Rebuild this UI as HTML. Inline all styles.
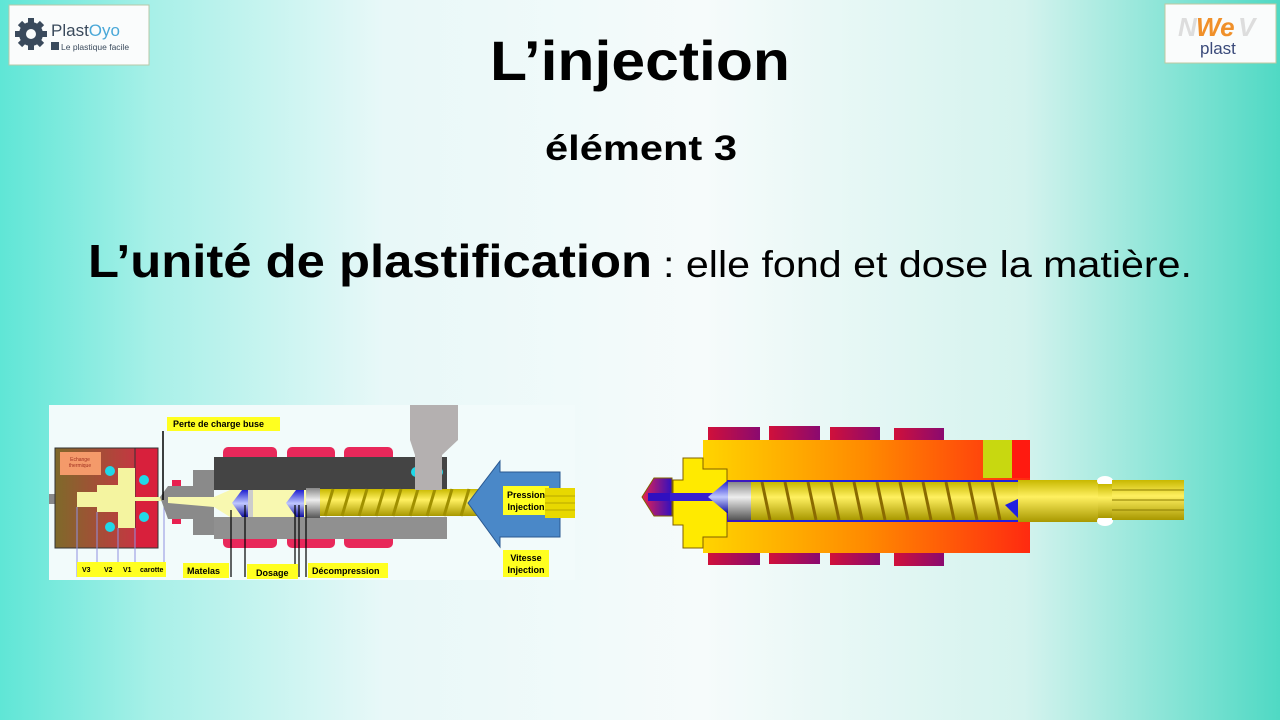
<!DOCTYPE html>
<html><head><meta charset="utf-8"><style>
html,body{margin:0;padding:0;width:1280px;height:720px;overflow:hidden}
svg{display:block}
text{font-family:"Liberation Sans",Arial,sans-serif}
</style></head><body>
<svg width="1280" height="720" viewBox="0 0 1280 720" xmlns="http://www.w3.org/2000/svg">
<defs>
<linearGradient id="bg" x1="0" y1="0" x2="1" y2="0">
<stop offset="0" stop-color="#5fe6d6"/><stop offset="0.12" stop-color="#a8f0e8"/>
<stop offset="0.3" stop-color="#e8f8f8"/><stop offset="0.55" stop-color="#f6fbfb"/>
<stop offset="0.8" stop-color="#d4f3ee"/><stop offset="1" stop-color="#4fd9c4"/></linearGradient>
<linearGradient id="mold" x1="0" y1="0" x2="1" y2="0"><stop offset="0" stop-color="#7e6a2a"/><stop offset="1" stop-color="#d82848"/></linearGradient>
<linearGradient id="barrel" x1="0" y1="0" x2="1" y2="0"><stop offset="0" stop-color="#ffd400"/><stop offset="0.5" stop-color="#ff8a00"/><stop offset="1" stop-color="#ff2a10"/></linearGradient>
<linearGradient id="band" x1="0" y1="0" x2="1" y2="0"><stop offset="0" stop-color="#d0103a"/><stop offset="1" stop-color="#8a0a70"/></linearGradient>
<linearGradient id="tip" x1="0" y1="0" x2="1" y2="0"><stop offset="0" stop-color="#e82050"/><stop offset="1" stop-color="#3010c0"/></linearGradient>
<linearGradient id="cone" x1="0" y1="0" x2="0" y2="1"><stop offset="0" stop-color="#2020d0"/><stop offset="0.5" stop-color="#c0c8ff"/><stop offset="1" stop-color="#1010a0"/></linearGradient>
<linearGradient id="ring" x1="0" y1="0" x2="0" y2="1"><stop offset="0" stop-color="#888"/><stop offset="0.4" stop-color="#eee"/><stop offset="1" stop-color="#555"/></linearGradient>
<linearGradient id="scr" x1="0" y1="0" x2="0" y2="1"><stop offset="0" stop-color="#c8b800"/><stop offset="0.4" stop-color="#fff060"/><stop offset="1" stop-color="#a89800"/></linearGradient>
</defs>
<rect width="1280" height="720" fill="url(#bg)"/>

<!-- logos -->
<rect x="9" y="5" width="140" height="60" fill="#fafcfc" stroke="#b8c8a8" stroke-width="1"/>
<circle cx="31" cy="34" r="12" fill="#3a4a5c"/><circle cx="31" cy="34" r="5" fill="#fafcfc"/>
<g stroke="#3a4a5c" stroke-width="6"><line x1="31" y1="18" x2="31" y2="50"/><line x1="15" y1="34" x2="47" y2="34"/><line x1="20" y1="23" x2="42" y2="45"/><line x1="42" y1="23" x2="20" y2="45"/></g>
<circle cx="31" cy="34" r="5" fill="#fafcfc"/>
<text x="51" y="36" font-size="17" fill="#3a4a5c">Plast<tspan fill="#4aa8d8">Oyo</tspan></text>
<rect x="51" y="42" width="8" height="8" fill="#3a4a5c"/>
<text x="61" y="50" font-size="8.5" fill="#3a4a5c">Le plastique facile</text>
<rect x="1165" y="4" width="111" height="59" fill="#fafcfc" stroke="#c0c8a0"/>
<text x="1178" y="36" font-size="26" font-weight="bold" fill="#ddd" font-style="italic">N</text>
<text x="1196" y="36" font-size="26" font-weight="bold" fill="#f0902a" font-style="italic">We</text>
<text x="1238" y="36" font-size="26" font-weight="bold" fill="#ddd" font-style="italic">V</text>
<text x="1200" y="54" font-size="17" fill="#3a4a7a">plast</text>

<!-- titles -->
<text x="640" y="80" font-size="56" font-weight="bold" text-anchor="middle" textLength="300" lengthAdjust="spacingAndGlyphs">L’injection</text>
<text x="641" y="160" font-size="35" font-weight="bold" text-anchor="middle" textLength="192" lengthAdjust="spacingAndGlyphs">élément 3</text>
<text x="88" y="277" font-size="46" font-weight="bold" textLength="564" lengthAdjust="spacingAndGlyphs">L’unité de plastification</text>
<text x="663" y="277" font-size="37" textLength="529" lengthAdjust="spacingAndGlyphs">: elle fond et dose la matière.</text>

<!-- LEFT DIAGRAM -->
<rect x="49" y="405" width="526" height="175" fill="#f2fbfb"/>
<rect x="49" y="494" width="30" height="10" fill="#888"/>
<rect x="55" y="448" width="103" height="100" fill="url(#mold)" stroke="#333"/>
<rect x="135" y="448" width="23" height="100" fill="#d8203c" stroke="#333"/>
<rect x="60" y="452" width="41" height="23" fill="#f49a6a"/>
<text x="80" y="461" font-size="5" text-anchor="middle" fill="#a03020">Echange</text>
<text x="80" y="467" font-size="5" text-anchor="middle" fill="#a03020">thermique</text>
<polygon points="77,492 97,492 97,485 118,485 118,468 135,468 135,497 162,497 162,501 135,501 135,528 118,528 118,512 97,512 97,507 77,507" fill="#f4f4a0"/>
<g fill="#20d8e8"><circle cx="110" cy="471" r="5"/><circle cx="110" cy="527" r="5"/><circle cx="144" cy="480" r="5"/><circle cx="144" cy="517" r="5"/></g>
<g stroke="#9090e0" stroke-width="1"><line x1="77" y1="507" x2="77" y2="577"/><line x1="97" y1="512" x2="97" y2="577"/><line x1="118" y1="528" x2="118" y2="577"/><line x1="135" y1="528" x2="135" y2="577"/><line x1="164" y1="505" x2="164" y2="577"/></g>
<rect x="77" y="562" width="89" height="15" fill="#ffff20"/>
<g font-size="7" font-weight="bold"><text x="82" y="572">V3</text><text x="104" y="572">V2</text><text x="123" y="572">V1</text><text x="140" y="572">carotte</text></g>
<!-- nozzle -->
<rect x="172" y="480" width="9" height="8" fill="#e82050"/><rect x="172" y="516" width="9" height="8" fill="#e82050"/>
<polygon points="160,497 168,486 193,486 193,470 214,470 214,535 193,535 193,519 168,519" fill="#8a8a8a"/>
<!-- barrel -->
<g fill="#e8285a"><rect x="223" y="447" width="54" height="18" rx="5"/><rect x="287" y="447" width="48" height="18" rx="5"/><rect x="344" y="447" width="49" height="18" rx="5"/>
<rect x="223" y="530" width="54" height="18" rx="5"/><rect x="287" y="530" width="48" height="18" rx="5"/><rect x="344" y="530" width="49" height="18" rx="5"/></g>
<rect x="214" y="457" width="233" height="33" fill="#444"/>
<rect x="214" y="517" width="233" height="22" fill="#909090"/>
<polygon points="168,497 214,497 230,490 310,490 310,517 230,517 214,507 168,503" fill="#f8f8b0"/>
<polygon points="232,503 242,490 250,490 250,517 242,517" fill="url(#cone)"/>
<rect x="248" y="490" width="5" height="27" fill="#ccc"/>
<polygon points="286,503 296,490 304,490 304,517 296,517" fill="url(#cone)"/>
<rect x="306" y="488" width="14" height="30" fill="url(#ring)"/>
<rect x="320" y="489" width="160" height="27" fill="url(#scr)"/>
<g stroke="#a09000" stroke-width="3">
<line x1="325" y1="516" x2="333" y2="489"/><line x1="342" y1="516" x2="350" y2="489"/><line x1="359" y1="516" x2="367" y2="489"/><line x1="376" y1="516" x2="384" y2="489"/><line x1="393" y1="516" x2="401" y2="489"/><line x1="410" y1="516" x2="418" y2="489"/><line x1="427" y1="516" x2="435" y2="489"/><line x1="444" y1="516" x2="452" y2="489"/><line x1="461" y1="516" x2="469" y2="489"/></g>
<g fill="#20d8e8"><circle cx="416" cy="472" r="5"/><circle cx="438" cy="472" r="5"/></g>
<polygon points="410,405 458,405 458,440 442,455 442,490 415,490 415,455 410,440" fill="#b4b0b0"/>
<!-- arrow -->
<polygon points="468,503 500,461 500,472 560,472 560,537 500,537 500,547" fill="#4a88c8" stroke="#2a5890"/>
<rect x="503" y="486" width="46" height="29" fill="#ffff20"/>
<text x="526" y="498" font-size="9" font-weight="bold" text-anchor="middle">Pression</text>
<text x="526" y="510" font-size="9" font-weight="bold" text-anchor="middle">Injection</text>
<rect x="545" y="488" width="30" height="30" fill="#e8d800"/>
<g stroke="#b8a800"><line x1="545" y1="496" x2="575" y2="496"/><line x1="545" y1="503" x2="575" y2="503"/><line x1="545" y1="510" x2="575" y2="510"/></g>
<rect x="503" y="550" width="46" height="27" fill="#ffff20"/>
<text x="526" y="561" font-size="9" font-weight="bold" text-anchor="middle">Vitesse</text>
<text x="526" y="573" font-size="9" font-weight="bold" text-anchor="middle">Injection</text>
<!-- labels -->
<rect x="167" y="417" width="113" height="14" fill="#ffff20"/>
<text x="173" y="427" font-size="9" font-weight="bold">Perte de charge buse</text>
<line x1="163" y1="431" x2="163" y2="500" stroke="#000" stroke-width="1.5"/>
<g stroke="#000" stroke-width="1.2"><line x1="231" y1="510" x2="231" y2="577"/><line x1="245" y1="505" x2="245" y2="577"/><line x1="295" y1="505" x2="295" y2="577"/><line x1="299" y1="505" x2="299" y2="577"/><line x1="306" y1="505" x2="306" y2="577"/></g>
<rect x="183" y="563" width="46" height="15" fill="#ffff20"/><text x="187" y="574" font-size="9" font-weight="bold">Matelas</text>
<rect x="247" y="564" width="51" height="15" fill="#ffff20"/><text x="256" y="576" font-size="9" font-weight="bold">Dosage</text>
<rect x="308" y="563" width="80" height="15" fill="#ffff20"/><text x="312" y="574" font-size="9" font-weight="bold">Décompression</text>

<!-- RIGHT DIAGRAM -->
<g fill="url(#band)"><rect x="708" y="427" width="52" height="13"/><rect x="769" y="426" width="51" height="14"/><rect x="830" y="427" width="50" height="13"/><rect x="894" y="428" width="50" height="12"/>
<rect x="708" y="553" width="52" height="12"/><rect x="769" y="553" width="51" height="11"/><rect x="830" y="553" width="50" height="12"/><rect x="894" y="553" width="50" height="13"/></g>
<rect x="703" y="440" width="327" height="113" fill="url(#barrel)"/>
<rect x="983" y="440" width="29" height="38" fill="#c8d810"/>
<rect x="1012" y="440" width="18" height="38" fill="#ff1a10"/>
<polygon points="683,458 703,458 703,469 727,469 727,537 703,537 703,548 683,548 683,525 673,525 673,480 683,480" fill="#ffea00" stroke="#806000"/>
<polygon points="642,497 654,478 672,478 672,516 654,516" fill="url(#tip)" stroke="#806000"/>
<rect x="648" y="493" width="30" height="8" fill="#3010c0"/>
<rect x="670" y="493" width="58" height="8" fill="#3820d0"/>
<polygon points="710,497 727,481 730,481 730,513 727,513" fill="url(#cone)"/>
<rect x="727" y="480" width="25" height="42" fill="#3a18c0"/>
<polygon points="708,497 727,481 730,481 730,513 727,513" fill="url(#cone)"/>
<rect x="728" y="482" width="23" height="38" fill="url(#ring)"/>
<rect x="751" y="480" width="270" height="42" fill="#2020e0"/>
<polygon points="751,482 1020,482 1020,498 1005,505 1020,520 751,520" fill="url(#scr)"/>
<g stroke="#8a6a00" stroke-width="3">
<line x1="770" y1="520" x2="762" y2="482"/><line x1="793" y1="520" x2="785" y2="482"/><line x1="816" y1="520" x2="808" y2="482"/><line x1="839" y1="520" x2="831" y2="482"/><line x1="862" y1="520" x2="854" y2="482"/><line x1="885" y1="520" x2="877" y2="482"/><line x1="908" y1="520" x2="900" y2="482"/><line x1="931" y1="520" x2="923" y2="482"/><line x1="954" y1="520" x2="946" y2="482"/><line x1="977" y1="520" x2="969" y2="482"/><line x1="1000" y1="520" x2="992" y2="482"/></g>
<rect x="1018" y="480" width="80" height="42" fill="url(#scr)"/>
<ellipse cx="1105" cy="481" rx="8" ry="5" fill="#fff"/><ellipse cx="1105" cy="521" rx="8" ry="5" fill="#fff"/>
<rect x="1098" y="484" width="14" height="34" fill="url(#scr)"/>
<rect x="1112" y="480" width="72" height="40" fill="url(#scr)"/>
<g stroke="#8a7a00"><line x1="1112" y1="490" x2="1184" y2="490"/><line x1="1112" y1="500" x2="1184" y2="500"/><line x1="1112" y1="510" x2="1184" y2="510"/></g>
</svg>
</body></html>
